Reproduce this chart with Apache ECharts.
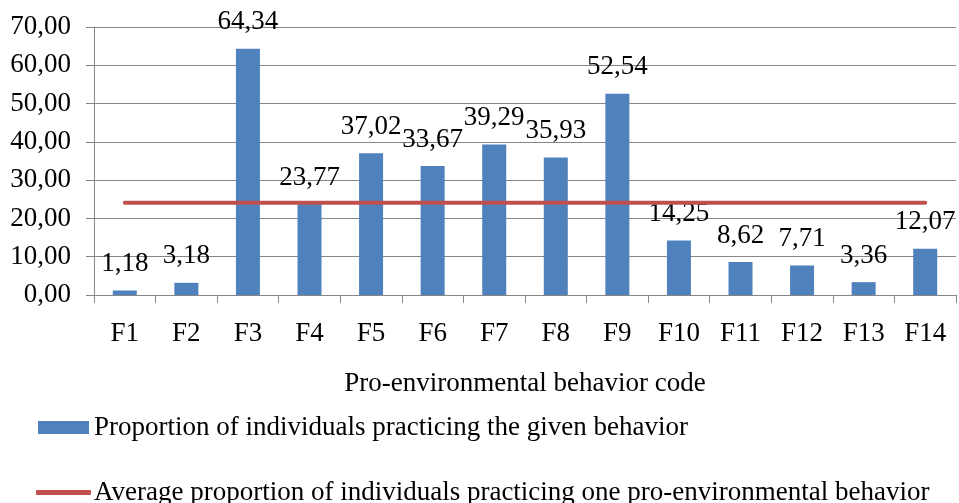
<!DOCTYPE html>
<html>
<head>
<meta charset="utf-8">
<script src="https://cdn.jsdelivr.net/npm/echarts@6/dist/echarts.min.js"></script>
<style>
  html, body { margin: 0; padding: 0; background: #fff; }
  #chart { width: 959px; height: 503px; }
</style>
</head>
<body>
<div id="chart"></div>
<script>
// Behaviour codes and shares (%) of individuals practicing each behaviour
const categories = ['F1', 'F2', 'F3', 'F4', 'F5', 'F6', 'F7', 'F8', 'F9', 'F10', 'F11', 'F12', 'F13', 'F14'];
const shares = [1.18, 3.18, 64.34, 23.77, 37.02, 33.67, 39.29, 35.93, 52.54, 14.25, 8.62, 7.71, 3.36, 12.07];
// Average share practicing one behaviour, drawn as a flat line across all codes
const averageShare = [24.07, 24.07, 24.07, 24.07, 24.07, 24.07, 24.07, 24.07, 24.07, 24.07, 24.07, 24.07, 24.07, 24.07];
const yTicks = { min: 0, max: 70, interval: 10 };

const barName = 'Proportion of individuals practicing the given behavior';
const lineName = 'Average proportion of individuals practicing one pro-environmental behavior';

const FONT = '"Liberation Serif", "DejaVu Serif", serif';
const GRAY = '#868686';
const SIZE = 27;
const comma = v => Number(v).toFixed(2).replace('.', ',');

const chart = echarts.init(document.getElementById('chart'));
chart.setOption({
  animation: false,
  textStyle: { fontFamily: FONT, color: '#000' },
  grid: { left: 94, right: 3, top: 27, bottom: 208, containLabel: false },
  legend: [
    {
      data: [{ name: barName, icon: 'rect' }],
      left: 38, top: 414, orient: 'vertical', padding: 0,
      itemWidth: 51, itemHeight: 13, itemGap: 0,
      textStyle: { fontFamily: FONT, fontSize: SIZE, color: '#000', padding: 0 },
      selectedMode: false
    },
    {
      data: [{ name: lineName, icon: 'roundRect' }],
      left: 36, top: 479, orient: 'vertical', padding: 0,
      itemWidth: 55, itemHeight: 5, itemGap: 0,
      textStyle: { fontFamily: FONT, fontSize: SIZE, color: '#000', padding: [0, 0, 0, -2] },
      selectedMode: false
    }
  ],
  xAxis: {
    type: 'category',
    data: categories,
    boundaryGap: true,
    name: 'Pro-environmental behavior code',
    nameLocation: 'middle',
    nameGap: 75,
    nameTextStyle: { fontFamily: FONT, fontSize: SIZE, color: '#000' },
    axisLine: { show: true, lineStyle: { color: GRAY, width: 1 } },
    axisTick: { show: true, length: 8, alignWithLabel: false, lineStyle: { color: GRAY } },
    axisLabel: { margin: 25, fontFamily: FONT, fontSize: SIZE, color: '#000' },
    splitLine: { show: false }
  },
  yAxis: {
    type: 'value',
    min: yTicks.min, max: yTicks.max, interval: yTicks.interval,
    axisLine: { show: true, lineStyle: { color: GRAY, width: 1 } },
    axisTick: { show: true, length: 8, lineStyle: { color: GRAY } },
    axisLabel: { margin: 23, fontFamily: FONT, fontSize: SIZE, color: '#000', formatter: comma },
    splitLine: { show: true, lineStyle: { color: GRAY, width: 1 } }
  },
  series: [
    {
      name: barName,
      type: 'bar',
      data: shares,
      barWidth: 24,
      itemStyle: { color: '#4F81BD' },
      label: {
        show: true, position: 'top', distance: 13,
        fontFamily: FONT, fontSize: SIZE, color: '#000',
        formatter: p => comma(p.value)
      },
      z: 2
    },
    {
      name: lineName,
      type: 'line',
      data: averageShare,
      symbol: 'none',
      lineStyle: { color: '#C0504D', width: 4, cap: 'round' },
      itemStyle: { color: '#C0504D' },
      z: 3
    }
  ]
});
</script>
</body>
</html>
